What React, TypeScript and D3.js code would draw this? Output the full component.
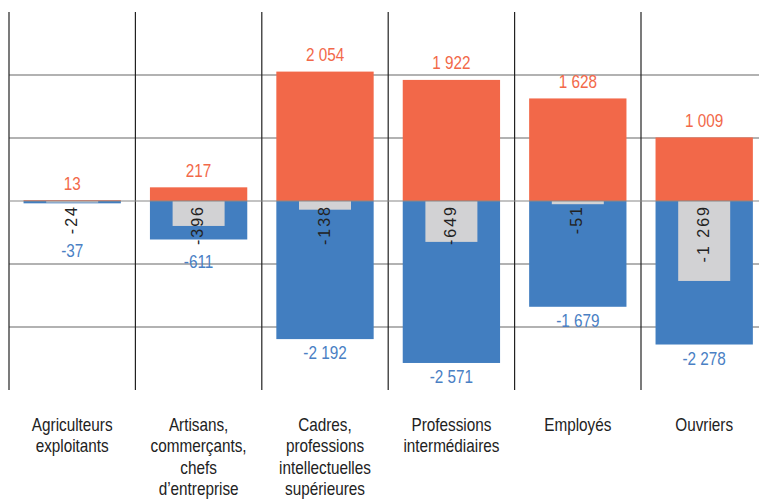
import React, { useEffect, useRef } from 'react';
import * as d3 from 'd3';

const categories = [
  'Agriculteurs exploitants',
  'Artisans, commerçants, chefs d’entreprise',
  'Cadres, professions intellectuelles supérieures',
  'Professions intermédiaires',
  'Employés',
  'Ouvriers',
];
const categoryLines = [
  ['Agriculteurs', 'exploitants'],
  ['Artisans,', 'commerçants,', 'chefs', 'd’entreprise'],
  ['Cadres,', 'professions', 'intellectuelles', 'supérieures'],
  ['Professions', 'intermédiaires'],
  ['Employés'],
  ['Ouvriers'],
];
const gains = [13, 217, 2054, 1922, 1628, 1009];
const losses = [-37, -611, -2192, -2571, -1679, -2278];
const balance = [-24, -396, -138, -649, -51, -1269];
const gridTicks = [-2000, -1000, 1000, 2000];

const FONT = '"Liberation Sans", Arial, sans-serif';
const SQUEEZE = 0.85; // the original type is a narrow sans

const App: React.FC = () => {
  const ref = useRef<SVGSVGElement | null>(null);

  useEffect(() => {
    const width = 759;
    const height = 500;
    const svg = d3.select(ref.current);
    svg.selectAll('*').remove();
    svg.attr('width', width).attr('height', height).style('font-family', FONT);

    const locale = d3.formatLocale({ decimal: ',', thousands: ' ', grouping: [3], currency: ['', ' €'], minus: '-' });
    const fmt = locale.format(',d');

    const x = d3.scaleBand<string>().domain(categories).range([9, 9 + 126.4 * 6]);
    const y = d3.scaleLinear().domain([-3000, 3000]).range([390, 12]);
    const bw = x.bandwidth();
    const barW = bw * 0.77;
    const netW = 52;
    const cx = (c: string) => (x(c) as number) + bw / 2;

    // horizontal grid
    svg.append('g')
      .selectAll('line')
      .data(gridTicks)
      .join('line')
      .attr('x1', 9).attr('x2', width)
      .attr('y1', d => y(d)).attr('y2', d => y(d))
      .attr('stroke', '#999').attr('stroke-width', 1.5);

    // vertical separators
    svg.append('g')
      .selectAll('line')
      .data(categories)
      .join('line')
      .attr('x1', d => (x(d) as number)).attr('x2', d => (x(d) as number))
      .attr('y1', y(3000)).attr('y2', y(-3000))
      .attr('stroke', '#222').attr('stroke-width', 1.2);

    const g = svg.append('g');
    g.selectAll('rect.gain')
      .data(categories)
      .join('rect')
      .attr('class', 'gain')
      .attr('x', d => cx(d) - barW / 2)
      .attr('width', barW)
      .attr('y', (d, i) => y(gains[i]))
      .attr('height', (d, i) => y(0) - y(gains[i]))
      .attr('fill', '#f26849');

    g.selectAll('rect.loss')
      .data(categories)
      .join('rect')
      .attr('class', 'loss')
      .attr('x', d => cx(d) - barW / 2)
      .attr('width', barW)
      .attr('y', y(0))
      .attr('height', (d, i) => y(losses[i]) - y(0))
      .attr('fill', '#427ec0');

    g.selectAll('rect.net')
      .data(categories)
      .join('rect')
      .attr('class', 'net')
      .attr('x', d => cx(d) - netW / 2)
      .attr('width', netW)
      .attr('y', y(0))
      .attr('height', (d, i) => y(balance[i]) - y(0))
      .attr('fill', '#d2d2d4');

    // zero line
    svg.append('line')
      .attr('x1', 9).attr('x2', width)
      .attr('y1', y(0)).attr('y2', y(0))
      .attr('stroke', '#888').attr('stroke-width', 1.2);

    // gain labels
    svg.append('g')
      .selectAll('text')
      .data(categories)
      .join('text')
      .attr('transform', (d, i) => `translate(${cx(d)},${y(gains[i]) - 10.5}) scale(${SQUEEZE},1)`)
      .attr('text-anchor', 'middle')
      .attr('fill', '#f26849')
      .style('font-size', '18px')
      .text((d, i) => fmt(gains[i]));

    // balance labels, rotated
    const netText = svg.append('g')
      .selectAll('text')
      .data(categories)
      .join('text')
      .attr('transform', d => `translate(${cx(d) + 4.5},${y(0) + 4}) rotate(-90)`)
      .attr('text-anchor', 'end')
      .attr('fill', '#222')
      .style('font-size', '16px')
      .style('letter-spacing', '2px')
      .text((d, i) => fmt(balance[i]));

    const lens: number[] = [];
    netText.each(function () {
      lens.push((this as SVGTextElement).getComputedTextLength());
    });

    // loss labels
    svg.append('g')
      .selectAll('text')
      .data(categories)
      .join('text')
      .attr('transform', (d, i) => {
        const yy = Math.max(y(losses[i]) + 20, y(0) + 4 + lens[i] + 23);
        return `translate(${cx(d)},${yy}) scale(${SQUEEZE},1)`;
      })
      .attr('text-anchor', 'middle')
      .attr('fill', '#4a80c4')
      .style('font-size', '18px')
      .text((d, i) => fmt(losses[i]));

    // category labels
    const cat = svg.append('g')
      .selectAll('text')
      .data(categories)
      .join('text')
      .attr('transform', d => `translate(${cx(d)},0) scale(${SQUEEZE},1)`)
      .attr('text-anchor', 'middle')
      .attr('fill', '#222')
      .style('font-size', '18px');
    cat.each(function (d, i) {
      d3.select(this)
        .selectAll('tspan')
        .data(categoryLines[i])
        .join('tspan')
        .attr('x', 0)
        .attr('y', (l, j) => 431 + j * 21.5)
        .text(l => l);
    });
  }, []);

  return <svg ref={ref} style={{ position: 'absolute', left: 0, top: 0, background: '#fff' }}></svg>;
};

export default App;
